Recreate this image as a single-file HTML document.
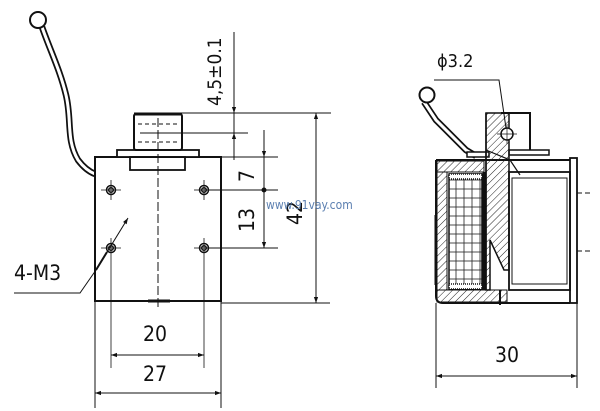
<!DOCTYPE html>
<html><head><meta charset="utf-8"><style>
html,body{margin:0;padding:0;background:#fff;width:600px;height:411px;overflow:hidden}
svg{display:block}
text{font-family:"DejaVu Sans Condensed","Liberation Sans Narrow","Liberation Sans",sans-serif;fill:#111}
</style></head><body>
<svg width="600" height="411" viewBox="0 0 600 411" xmlns="http://www.w3.org/2000/svg">
<defs>
<pattern id="h" width="5" height="5" patternUnits="userSpaceOnUse" patternTransform="rotate(45)">
<line x1="0" y1="0" x2="0" y2="5" stroke="#222" stroke-width="1"/></pattern>
<pattern id="g" width="8" height="9" patternUnits="userSpaceOnUse">
<rect width="8" height="9" fill="#fff" stroke="#222" stroke-width="0.8"/></pattern>
<marker id="a" viewBox="0 0 10 10" refX="10" refY="5" markerWidth="10" markerHeight="6" orient="auto-start-reverse" markerUnits="userSpaceOnUse"><path d="M0,1.5 L10,5 L0,8.5 Z" fill="#111"/></marker>
</defs>
<g stroke="#111" fill="none" stroke-width="1">
<!-- LEFT VIEW -->
<path d="M42,27 C50,50 60,70 66,95 C72,120 66,140 78,160 C84,168 90,172 95,174" stroke-width="6.5"/>
<path d="M42,27 C50,50 60,70 66,95 C72,120 66,140 78,160 C84,168 90,172 95,174" stroke="#fff" stroke-width="3"/>
<circle cx="38" cy="20" r="8" stroke-width="2" fill="#fff"/>
<rect x="95" y="157" width="126" height="144" stroke-width="2" fill="#fff"/>
<rect x="117" y="150" width="82" height="7" stroke-width="1.8" fill="#fff"/>
<rect x="134" y="114" width="48" height="36" rx="2" stroke-width="2" fill="#fff"/>
<line x1="134" y1="114" x2="182" y2="114" stroke-width="3"/>
<rect x="130" y="157" width="55" height="13" stroke-width="1.8"/>
<line x1="138" y1="124" x2="178" y2="124" stroke-dasharray="4,3"/>
<line x1="138" y1="142" x2="178" y2="142" stroke-dasharray="4,3"/>
<line x1="158" y1="118" x2="158" y2="310" stroke-dasharray="9,3"/>
<line x1="148" y1="301" x2="170" y2="301" stroke-width="3"/>
<g stroke-width="1.5">
<circle cx="111" cy="190" r="4.5"/><circle cx="111" cy="190" r="2.3"/>
<circle cx="204" cy="190" r="4.5"/><circle cx="204" cy="190" r="2.3"/>
<circle cx="111" cy="248" r="4.5"/><circle cx="111" cy="248" r="2.3"/>
<circle cx="204" cy="248" r="4.5"/><circle cx="204" cy="248" r="2.3"/>
</g>
<g stroke-width="0.8">
<line x1="101" y1="190" x2="121" y2="190"/><line x1="111" y1="180" x2="111" y2="200"/>
<line x1="194" y1="190" x2="204" y2="190"/><line x1="204" y1="180" x2="204" y2="200"/>
<line x1="101" y1="248" x2="121" y2="248"/><line x1="111" y1="238" x2="111" y2="368"/>
<line x1="194" y1="248" x2="204" y2="248"/><line x1="204" y1="238" x2="204" y2="368"/>
</g>
<line x1="182" y1="113" x2="331" y2="113"/>
<line x1="140" y1="133" x2="248" y2="133"/>
<line x1="199" y1="157" x2="278" y2="157"/>
<line x1="204" y1="190" x2="278" y2="190"/>
<line x1="204" y1="248" x2="278" y2="248"/>
<line x1="221" y1="303" x2="330" y2="303"/>
<line x1="95" y1="301" x2="95" y2="408"/>
<line x1="221" y1="301" x2="221" y2="408"/>
<line x1="234" y1="32" x2="234" y2="113" marker-end="url(#a)"/>
<line x1="234" y1="160" x2="234" y2="133" marker-end="url(#a)"/>
<line x1="234" y1="113" x2="234" y2="133"/>
<line x1="264" y1="130" x2="264" y2="157" marker-end="url(#a)"/>
<line x1="264" y1="157" x2="264" y2="248" marker-end="url(#a)"/>
<circle cx="264" cy="190" r="2" fill="#111"/>
<line x1="316" y1="303" x2="316" y2="113" marker-end="url(#a)" marker-start="url(#a)"/>
<line x1="111" y1="355" x2="204" y2="355" marker-end="url(#a)" marker-start="url(#a)"/>
<line x1="95" y1="393" x2="221" y2="393" marker-end="url(#a)" marker-start="url(#a)"/>
<polyline points="14,293 80,293 96,270 128,218" marker-end="url(#a)"/>
<line x1="96" y1="270" x2="107" y2="252" stroke-width="2"/>
<!-- RIGHT VIEW -->
<path d="M424,102 L436,120 L466,150 L476,156" stroke-width="6.5"/>
<path d="M424,102 L436,120 L466,150 L476,156" stroke="#fff" stroke-width="3"/>
<circle cx="427" cy="95" r="7.5" stroke-width="2" fill="#fff"/>
<polyline points="501,113 530,113 530,150" stroke-width="2"/>
<rect x="509" y="150" width="40" height="5" stroke-width="1.5" fill="#fff"/>
<rect x="467" y="152" width="22" height="5" stroke-width="1.5" fill="#fff"/>
<path d="M436,160 L570,160 M436,160 L436,296 Q436,303 443,303 L570,303" stroke-width="2"/>
<rect x="570" y="158" width="7" height="145" stroke-width="1.8" fill="#fff"/>
<rect x="437" y="161" width="47" height="11" fill="url(#h)" stroke-width="1"/>
<rect x="437" y="172" width="10" height="118" fill="url(#h)" stroke-width="1"/>
<rect x="437" y="290" width="70" height="12" fill="url(#h)" stroke-width="1"/>
<line x1="436" y1="215" x2="436" y2="285" stroke-width="3"/>
<rect x="449" y="174" width="33" height="115" fill="url(#g)" stroke-width="1.5"/>
<rect x="449" y="174" width="33" height="5" fill="#fff" stroke-dasharray="1,1" stroke-width="1.5"/>
<rect x="449" y="284" width="33" height="5" fill="#fff" stroke-dasharray="1,1" stroke-width="1.5"/>
<line x1="484" y1="172" x2="484" y2="290" stroke-width="3"/>
<path d="M486,113 L509,113 L509,270 L504,270 L490,240 L490,290 L486,290 Z" fill="url(#h)" stroke-width="1.5"/>
<line x1="486" y1="113" x2="486" y2="290" stroke-width="1.5"/>
<path d="M486,150 L510,160 L520,175" stroke-width="1.2"/>
<rect x="509" y="172" width="61" height="118" stroke-width="1.8"/>
<rect x="512" y="178" width="55" height="106" stroke-width="1"/>
<line x1="509" y1="290" x2="570" y2="290"/>
<line x1="500" y1="290" x2="500" y2="305" stroke-width="2"/>
<circle cx="507" cy="134" r="6" fill="#fff" stroke-width="1.5"/>
<line x1="497" y1="134" x2="517" y2="134" stroke-width="0.7"/>
<line x1="507" y1="124" x2="507" y2="144" stroke-width="0.7"/>
<polyline points="434,80 499,80 506,128" stroke-width="1"/>
<line x1="577" y1="193" x2="592" y2="193" stroke-dasharray="5,3"/>
<line x1="577" y1="251" x2="592" y2="251" stroke-dasharray="5,3"/>
<line x1="436" y1="303" x2="436" y2="388"/>
<line x1="577" y1="303" x2="577" y2="388"/>
<line x1="436" y1="376" x2="577" y2="376" marker-end="url(#a)" marker-start="url(#a)"/>
</g>
<g font-size="21">
<text transform="translate(221,106) rotate(-90)" font-size="19">4,5±0.1</text>
<text transform="translate(254,182) rotate(-90)">7</text>
<text transform="translate(254,232) rotate(-90)">13</text>
<text transform="translate(302,225) rotate(-90)">42</text>
<text x="143" y="341">20</text>
<text x="143" y="381">27</text>
<text x="14" y="280">4-M3</text>
<text x="437" y="67" font-size="18">ϕ3.2</text>
<text x="495" y="362">30</text>
</g>
<text x="266" y="209" font-family="Liberation Mono,monospace" font-size="12" style="fill:#5b7fb0">www.91vay.com</text>
</svg>
</body></html>
